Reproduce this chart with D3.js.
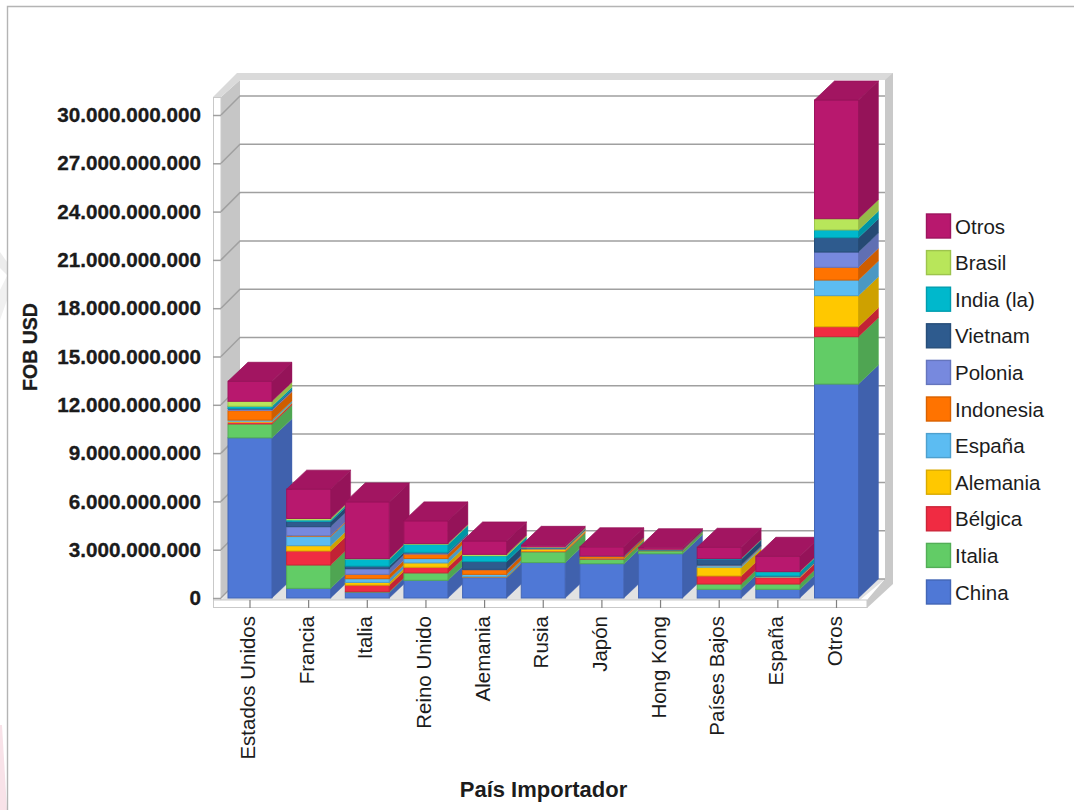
<!DOCTYPE html>
<html lang="es">
<head>
<meta charset="utf-8">
<title>FOB USD por País Importador</title>
<script src="https://cdn.jsdelivr.net/npm/d3@7/dist/d3.min.js"></script>
<style>
  html, body { margin: 0; padding: 0; background: #fff; }
  svg { display: block; }
  text { font-family: "Liberation Sans", Arial, sans-serif; fill: #1c1c1c; }
</style>
</head>
<body>
<div id="chart"></div>
<script>
// Importing countries along the x axis
const categories = ["Estados Unidos", "Francia", "Italia", "Reino Unido", "Alemania", "Rusia", "Japón", "Hong Kong", "Países Bajos", "España", "Otros"];

// Stack order, bottom to top; FOB values in billions of USD per importing country
const seriesNames = ["China", "Italia", "Bélgica", "Alemania", "España", "Indonesia", "Polonia", "Vietnam", "India (la)", "Brasil", "Otros"];
const china     = [9.95, 0.60, 0.35, 1.10, 1.26, 2.20, 2.13, 2.75, 0.54, 0.54, 13.29];
const italia    = [0.85, 1.45, 0.04, 0.46, 0.02, 0.66, 0.27, 0.17, 0.33, 0.33, 2.94];
const belgica   = [0.10, 0.87, 0.41, 0.35, 0.02, 0.04, 0.03, 0.01, 0.50, 0.39, 0.62];
const alemania  = [0.05, 0.33, 0.17, 0.27, 0.02, 0.10, 0.02, 0.01, 0.52, 0.03, 1.93];
const espana    = [0.10, 0.56, 0.23, 0.27, 0.15, 0.03, 0.01, 0.01, 0.10, 0.03, 0.97];
const indonesia = [0.58, 0.06, 0.27, 0.27, 0.27, 0.03, 0.10, 0.01, 0.03, 0.02, 0.79];
const polonia   = [0.08, 0.56, 0.35, 0.06, 0.04, 0.02, 0.01, 0.01, 0.03, 0.01, 0.95];
const vietnam   = [0.06, 0.31, 0.16, 0.06, 0.48, 0.02, 0.01, 0.01, 0.35, 0.02, 0.89];
const india     = [0.14, 0.10, 0.43, 0.48, 0.35, 0.02, 0.01, 0.01, 0.04, 0.25, 0.48];
const brasil    = [0.31, 0.10, 0.04, 0.06, 0.10, 0.04, 0.01, 0.01, 0.01, 0.02, 0.70];
const otros     = [1.24, 1.82, 3.52, 1.41, 0.83, 0.11, 0.58, 0.12, 0.70, 0.95, 7.37];
const seriesValues = [china, italia, belgica, alemania, espana, indonesia, polonia, vietnam, india, brasil, otros];

// Front, side and top faces of each series
const frontColors = ["#4f78d6", "#62cc66", "#f02b42", "#ffc800", "#5cbcf2", "#ff7300", "#7789de", "#2e5b8e", "#00b8cc", "#b8e65a", "#b8186e"];
const yTicks = [0, 3, 6, 9, 12, 15, 18, 21, 24, 27, 30];

const width = 1074, height = 810;
const frontLeft = 221, frontBase = 598, frontTop = 115; // front plane of the plot box
const depthX = 19, depthY = 19;                         // oblique offset of the back plane
const barDepthX = 20, backRight = 885;
const labelSize = 20.5;

const svg = d3.select("#chart").append("svg").attr("width", width).attr("height", height);

const y = d3.scaleLinear().domain([0, 30]).range([frontBase, frontTop]);
const x = d3.scaleBand().domain(categories).range([228, 858.5]).paddingInner(0.25);

const pts = a => a.map(p => p.join(",")).join(" ");
const wallGrey = "#c6c6c6", frameGrey = "#c9c9c9", gridGrey = "#a0a0a0";

// Page rule and faint background shapes on the left margin
const margin = svg.append("g");
margin.append("polygon").attr("points", pts([[0, 252], [7, 262], [7, 275], [0, 268]])).attr("fill", "#ececec");
margin.append("polygon").attr("points", pts([[0, 290], [7, 276], [7, 300], [0, 320]])).attr("fill", "#f0f0f0");
margin.append("polygon").attr("points", pts([[0, 725], [2, 725], [7, 810], [0, 810]])).attr("fill", "#f8e2e8");
margin.append("path").attr("d", `M7.5,${height}V6.5H${width}`).attr("fill", "none").attr("stroke", "#b4b4b4").attr("stroke-width", 1.4);

// Plot box: floor, side walls and the rims in front of them
const box = svg.append("g");
const backLeft = frontLeft + depthX, backBase = frontBase - depthY, backTop = 80;
box.append("polygon").attr("points", pts([[frontLeft, frontBase + 2], [backLeft, backBase], [backRight, backBase], [860, frontBase + 2]])).attr("fill", "#e2e2e2");
box.append("polygon").attr("points", pts([[frontLeft, backTop + depthY - 2], [backLeft, backTop], [backLeft, backBase], [frontLeft, frontBase]])).attr("fill", wallGrey);
// top rim
box.append("polygon").attr("points", pts([[213, 97], [237, 73], [893, 73], [893, 80], [backLeft, 80], [frontLeft, 97]])).attr("fill", "#dadada");
// right rim
box.append("polygon").attr("points", pts([[backRight, 80], [893, 73], [893, 584], [867, 608], [867, 600], [backRight, 579]])).attr("fill", frameGrey);
// left strip and bottom strip carrying the tick marks
box.append("rect").attr("x", 213.5).attr("y", 97.5).attr("width", 7.5).attr("height", 510).attr("fill", "#fff").attr("stroke", frameGrey);
box.append("rect").attr("x", 213.5).attr("y", 600).attr("width", 653.5).attr("height", 7.5).attr("fill", "#fff").attr("stroke", frameGrey);

// Gridlines: a diagonal on the left wall, then straight across the back wall
const grid = svg.append("g").attr("fill", "none").attr("stroke", gridGrey).attr("stroke-width", 1.5);
grid.selectAll("path").data(yTicks).join("path")
  .attr("d", d => `M${frontLeft},${y(d)}L${backLeft},${y(d) - depthY}H${backRight}`);

// Value axis
const axisY = d3.axisLeft(y).tickValues(yTicks).tickSize(8).tickPadding(4)
  .tickFormat(d => d === 0 ? "0" : d3.format("d")(d) + ".000.000.000");
const gy = svg.append("g").attr("transform", `translate(${frontLeft},0)`).call(axisY);
gy.select(".domain").remove();
gy.selectAll("line").attr("stroke", gridGrey).attr("stroke-width", 1.5);
gy.selectAll("text").attr("font-size", 20.7).attr("font-weight", "bold").attr("fill", "#141414")
  .attr("stroke", "#141414").attr("stroke-width", 0.3).attr("x", -20);

// Category axis
const axisX = d3.axisBottom(x).tickSize(8).tickPadding(0);
const gx = svg.append("g").attr("transform", "translate(0,600)").call(axisX);
gx.select(".domain").remove();
gx.selectAll("line").attr("stroke", "#808080").attr("stroke-width", 1.2);
gx.selectAll("text").attr("font-size", labelSize).attr("font-weight", "normal").attr("fill", "#1c1c1c")
  .attr("text-anchor", "end").attr("dy", null).attr("y", null)
  .attr("transform", "translate(5,16) rotate(-90)");

// Stacked bars, far-right bar painted first so nearer faces stay clean
const stackRows = categories.map((c, i) => {
  const row = { category: c };
  seriesNames.forEach((s, k) => { row[k] = seriesValues[k][i]; });
  return row;
});
const stacked = d3.stack().keys(seriesNames.map((s, k) => k))(stackRows);

const bars = svg.append("g");
categories.forEach((c, i) => {
  const g = bars.append("g").attr("class", "bar");
  const x0 = x(c), x1 = x0 + x.bandwidth();
  stacked.forEach((layer, k) => {
    const [v0, v1] = layer[i];
    const yb = y(v0), yt = y(v1);
    const base = d3.color(frontColors[k]);
    const edge = base.darker(0.45).formatHex();
    g.append("rect").attr("x", x0).attr("y", yt).attr("width", x1 - x0).attr("height", yb - yt)
      .attr("fill", base.formatHex()).attr("stroke", edge).attr("stroke-width", yb - yt > 2 ? 1 : 0.4);
    g.append("polygon")
      .attr("points", pts([[x1, yb], [x1 + barDepthX, yb - depthY], [x1 + barDepthX, yt - depthY], [x1, yt]]))
      .attr("fill", base.darker(0.6).formatHex()).attr("stroke", edge).attr("stroke-width", 0.4);
  });
  const topValue = stacked[stacked.length - 1][i][1], yt = y(topValue);
  const topBase = d3.color(frontColors[frontColors.length - 1]);
  g.append("polygon")
    .attr("points", pts([[x0, yt], [x0 + barDepthX, yt - depthY], [x1 + barDepthX, yt - depthY], [x1, yt]]))
    .attr("fill", topBase.darker(0.35).formatHex()).attr("stroke", topBase.darker(0.6).formatHex()).attr("stroke-width", 0.8);
});

// Axis titles
svg.append("text").attr("transform", "translate(37,347) rotate(-90)").attr("text-anchor", "middle")
  .attr("font-size", 19.5).attr("font-weight", "bold").attr("fill", "#141414")
  .attr("stroke", "#141414").attr("stroke-width", 0.3).text("FOB USD");
svg.append("text").attr("x", 543.5).attr("y", 797).attr("text-anchor", "middle")
  .attr("font-size", 22).attr("font-weight", "bold").attr("fill", "#141414").text("País Importador");

// Legend, top entry is the top of the stack
const legendY = d3.scalePoint().domain(seriesNames.map((s, k) => k).reverse()).range([226, 592]);
const legend = svg.append("g").selectAll("g").data(seriesNames).join("g")
  .attr("transform", (s, k) => `translate(926,${legendY(k)})`);
legend.append("rect").attr("x", 0.5).attr("y", -12).attr("width", 24).attr("height", 24)
  .attr("fill", (s, k) => frontColors[k])
  .attr("stroke", (s, k) => d3.color(frontColors[k]).darker(0.45).formatHex()).attr("stroke-width", 1.4);
legend.append("text").attr("x", 29).attr("y", 7.5).attr("font-size", labelSize).attr("fill", "#2a2a2a").text(s => s);
</script>
</body>
</html>
